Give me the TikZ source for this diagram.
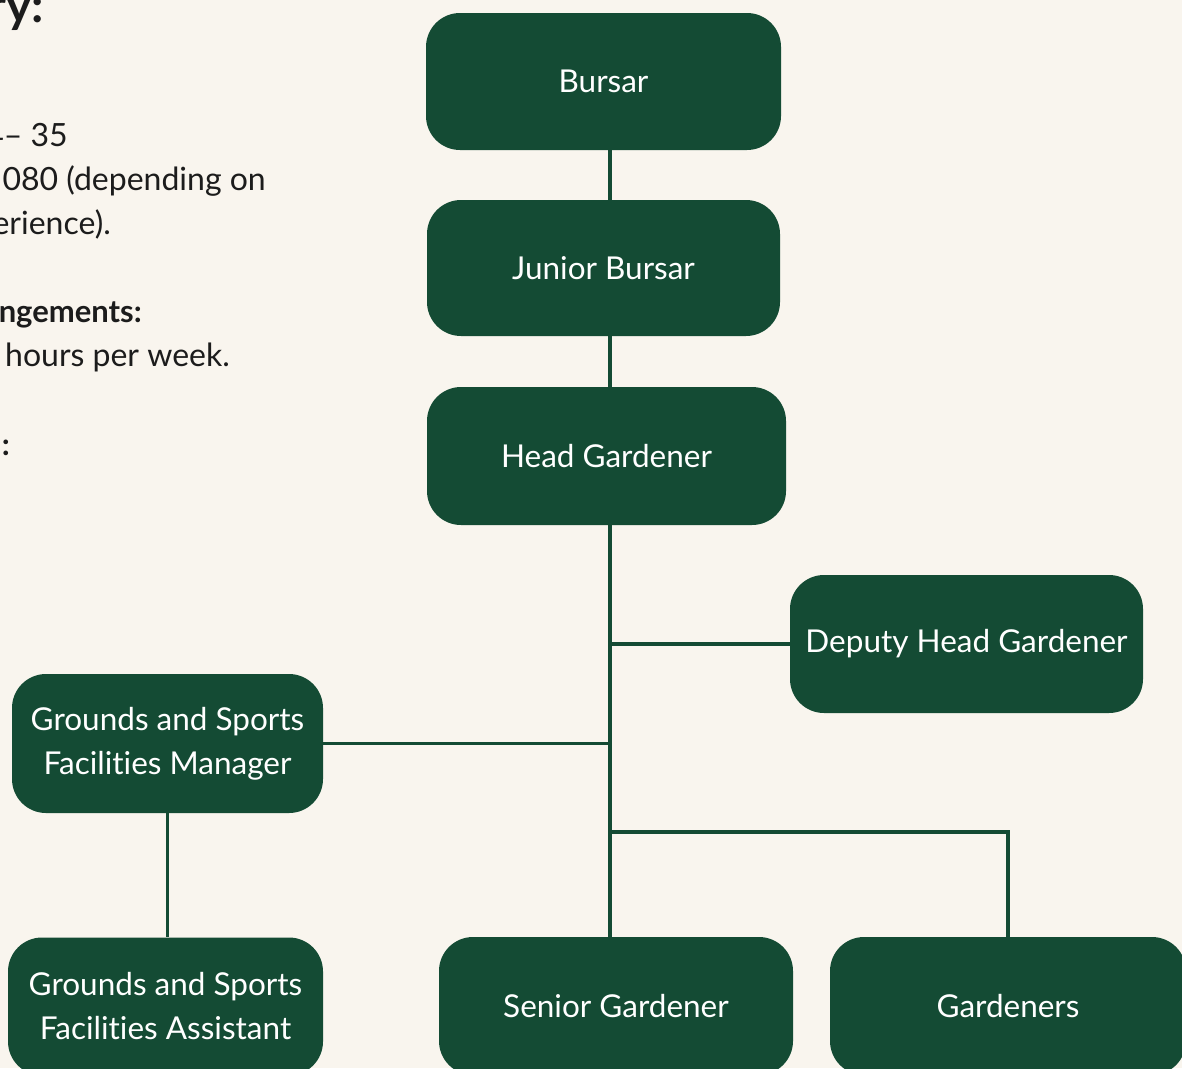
\documentclass[tikz,border=0pt]{standalone}
\usepackage{fontspec}
\setmainfont{Lato}[Ligatures=NoCommon]
\definecolor{bg}{HTML}{F9F5EE}
\definecolor{boxgreen}{HTML}{144B34}
\definecolor{ink}{HTML}{1C1C1C}
\begin{document}
\begin{tikzpicture}[x=1pt,y=-1pt,
  orgbox/.style={draw=none,fill=boxgreen,rounded corners=34pt,text=white,
    font=\fontsize{31.5}{44}\selectfont,align=center,inner sep=0pt},
  conn/.style={draw=boxgreen,line width=3.6pt},
  lefttext/.style={anchor=base east,text=ink,inner sep=0pt,font=\fontsize{32}{32}\selectfont},
  lefthead/.style={anchor=base east,text=ink,inner sep=0pt,font=\fontsize{31}{32}\selectfont\bfseries}]
\fill[bg] (0,0) rectangle (1182,1068);
\useasboundingbox (0,0) rectangle (1182,1068);

% left clipped text
\node[anchor=base east,text=ink,inner sep=0pt,font=\fontsize{48}{50}\selectfont\bfseries] (h1) at (44,22) {ry:};
\node[lefttext] (t1) at (68,146) {4– 35};
\node[lefttext] (t2) at (266,190) {080 (depending on};
\node[lefttext] (t3) at (111,234) {erience).};
\node[lefthead] (t4) at (142,322) {ngements:};
\node[lefttext] (t5) at (230,366) {hours per week.};
\node[lefthead] (t6) at (10,455) {n:};

% boxes
\node[orgbox,minimum width=355pt,minimum height=137pt] (bursar) at (603.5,81.5) {Bursar};
\node[orgbox,minimum width=353pt,minimum height=136pt] (junior) at (603.5,268) {Junior Bursar};
\node[orgbox,minimum width=359pt,minimum height=138pt] (head) at (606.5,456) {Head Gardener};
\node[orgbox,minimum width=353pt,minimum height=138pt] (deputy) at (966.5,644) {Deputy Head Gardener};
\node[orgbox,minimum width=311pt,minimum height=139pt] (manager) at (167.5,743.5) {Grounds and Sports\\Facilities Manager};
\node[orgbox,minimum width=315pt,minimum height=138pt] (assistant) at (165.5,1006.5) {Grounds and Sports\\Facilities Assistant};
\node[orgbox,minimum width=354pt,minimum height=138pt] (senior) at (616,1006) {Senior Gardener};
\node[orgbox,minimum width=356pt,minimum height=138pt] (gardeners) at (1008,1006) {Gardeners};

% trunk reference
\coordinate (trunk) at (610,0);
\coordinate (gj) at (610,832);

% connectors
\draw[conn] (bursar.south -| trunk) -- (junior.north -| trunk);
\draw[conn] (junior.south -| trunk) -- (head.north -| trunk);
\draw[conn] (head.south -| trunk) -- (senior.north -| trunk);
\draw[conn] (deputy.west -| trunk) -- (deputy.west);
\draw[conn] (manager.east) -- (manager.east -| trunk);
\draw[conn] (gj) -| (gardeners.north);
\draw[conn] (manager.south) -- (manager.south |- assistant.north);
\end{tikzpicture}
\end{document}
